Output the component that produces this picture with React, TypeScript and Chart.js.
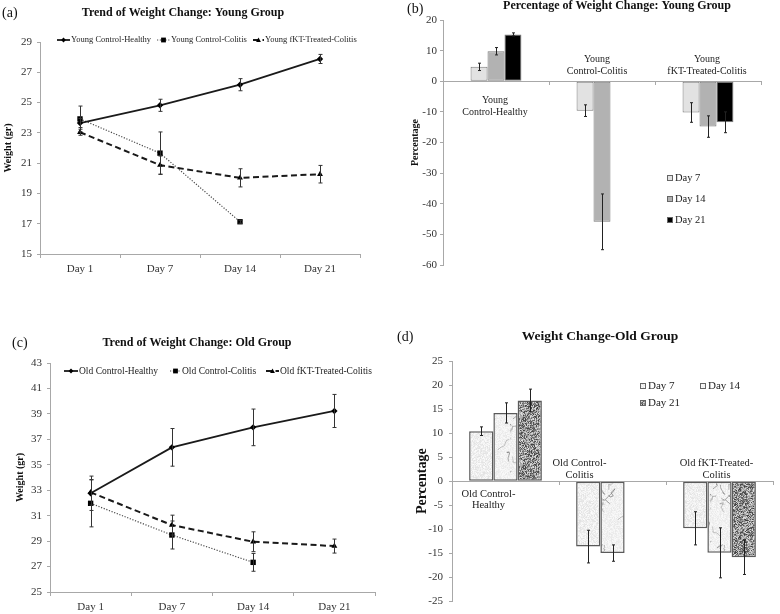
import React, { useEffect, useRef } from "react";
import { Chart, registerables } from "chart.js";

Chart.register(...registerables);

const SERIF = "'Liberation Serif', 'Times New Roman', Times, serif";
const AXIS = "#a8a8a8";
const TICK = "#333333";

// ---------------- data ----------------
const dayLabels = ["Day 1", "Day 7", "Day 14", "Day 21"];

const youngHealthy = [23.65, 24.82, 26.18, 27.88];
const youngHealthyErr = [0.3, 0.4, 0.4, 0.3];
const youngColitis = [23.92, 21.66, 17.13, null];
const youngColitisErr = [0.85, 1.4, 0.1, null];
const youngTreated = [23.04, 20.87, 20.03, 20.27];
const youngTreatedErr = [0.2, 0.6, 0.6, 0.58];

const oldHealthy = [32.76, 36.37, 37.94, 39.23];
const oldHealthyErr = [1.35, 1.48, 1.44, 1.3];
const oldColitis = [31.97, 29.48, 27.33, null];
const oldColitisErr = [1.85, 1.1, 0.7, null];
const oldTreated = [32.83, 30.26, 28.95, 28.61];
const oldTreatedErr = [1.0, 0.78, 0.78, 0.55];

const youngGroups = [["Young", "Control-Healthy"], ["Young", "Control-Colitis"], ["Young", "fKT-Treated-Colitis"]];
const youngPctDay7 = [4.7, -9.6, -10.2];
const youngPctDay7Err = [1.2, 1.9, 3.2];
const youngPctDay14 = [9.8, -45.9, -14.8];
const youngPctDay14Err = [1.2, 9.1, 3.5];
const youngPctDay21 = [15.3, null, -13.4];
const youngPctDay21Err = [0.5, null, 3.4];

const oldGroups = [["Old Control-", "Healthy"], ["Old Control-", "Colitis"], ["Old fKT-Treated-", "Colitis"]];
const oldPctDay7 = [10.4, -13.6, -9.8];
const oldPctDay7Err = [0.9, 3.4, 3.45];
const oldPctDay14 = [14.2, -14.95, -14.9];
const oldPctDay14Err = [2.1, 1.7, 5.2];
const oldPctDay21 = [16.8, null, -15.8];
const oldPctDay21Err = [2.35, null, 3.6];

const youngSeriesNames = ["Young Control-Healthy", "Young Control-Colitis", "Young fKT-Treated-Colitis"];
const oldSeriesNames = ["Old Control-Healthy", "Old Control-Colitis", "Old fKT-Treated-Colitis"];
const barSeriesNames = ["Day 7", "Day 14", "Day 21"];

// ---------------- styles ----------------
const lineStyles = [
  { dash: [] as number[], width: 1.8, color: "#1a1a1a", point: "rectRot", radius: 3.2, marker: "diamond" },
  { dash: [1.2, 1.6], width: 1.2, color: "#4a4a4a", point: "rect", radius: 3.8, marker: "square" },
  { dash: [6, 3.5], width: 2, color: "#1a1a1a", point: "triangle", radius: 3.4, marker: "triangle" },
];

function font(size: number, bold = false) {
  return `${bold ? "bold " : ""}${size}px ${SERIF}`;
}

function drawMarker(ctx: CanvasRenderingContext2D, kind: string, x: number, y: number, r: number) {
  ctx.beginPath();
  if (kind === "diamond") {
    ctx.moveTo(x, y - r); ctx.lineTo(x + r, y); ctx.lineTo(x, y + r); ctx.lineTo(x - r, y); ctx.closePath();
  } else if (kind === "square") {
    ctx.rect(x - r, y - r, 2 * r, 2 * r);
  } else {
    ctx.moveTo(x, y - r); ctx.lineTo(x + r, y + r * 0.8); ctx.lineTo(x - r, y + r * 0.8); ctx.closePath();
  }
  ctx.fill();
}

type TextItem = { text: string; x: number; y: number; size: number; bold?: boolean; align?: CanvasTextAlign };
type LegendItem =
  | { kind: "line"; ds: number; x1: number; x2: number; y: number; size: number }
  | { kind: "box"; ds: number; x: number; y: number; box: number; size: number };

type Decor = {
  texts: TextItem[];
  legend: LegendItem[];
  cap: number;
  errColor: string;
  cat?: { size: number; lh: number; below: number; above: number; offsets: number[] };
};

function makeDecor(d: Decor) {
  return {
    id: "decor",
    afterDatasetsDraw(chart: any) {
      const ctx: CanvasRenderingContext2D = chart.ctx;
      const ys = chart.scales.y;
      chart.data.datasets.forEach((ds: any, i: number) => {
        const errs = ds.errors;
        if (!errs) return;
        const meta = chart.getDatasetMeta(i);
        meta.data.forEach((el: any, j: number) => {
          const v = ds.data[j];
          const e = errs[j];
          if (v == null || e == null) return;
          const x = Math.round(el.x) + 0.5;
          const y1 = ys.getPixelForValue(v + e);
          const y2 = ys.getPixelForValue(v - e);
          ctx.save();
          ctx.strokeStyle = d.errColor;
          ctx.lineWidth = 1;
          ctx.setLineDash([]);
          ctx.beginPath();
          ctx.moveTo(x, y1); ctx.lineTo(x, y2);
          ctx.moveTo(x - d.cap, y1); ctx.lineTo(x + d.cap, y1);
          ctx.moveTo(x - d.cap, y2); ctx.lineTo(x + d.cap, y2);
          ctx.stroke();
          ctx.restore();
        });
      });
    },
    afterDraw(chart: any) {
      const ctx: CanvasRenderingContext2D = chart.ctx;
      ctx.save();
      ctx.textBaseline = "middle";
      ctx.fillStyle = "#111";
      for (const t of d.texts) {
        ctx.font = font(t.size, t.bold);
        ctx.textAlign = t.align || "left";
        ctx.fillText(t.text, t.x, t.y);
      }
      // legend
      for (const it of d.legend) {
        const ds = chart.data.datasets[it.ds];
        if (it.kind === "line") {
          const st = lineStyles[it.ds];
          ctx.strokeStyle = st.color;
          ctx.lineWidth = st.width;
          ctx.setLineDash(st.dash);
          ctx.beginPath();
          ctx.moveTo(it.x1, it.y); ctx.lineTo(it.x2, it.y);
          ctx.stroke();
          ctx.setLineDash([]);
          ctx.fillStyle = "#000";
          drawMarker(ctx, st.marker, (it.x1 + it.x2) / 2, it.y, 2.4);
          ctx.fillStyle = "#222";
          ctx.font = font(it.size);
          ctx.textAlign = "left";
          ctx.fillText(ds.label, it.x2 + 1, it.y);
        } else {
          ctx.fillStyle = ds.backgroundColor;
          ctx.fillRect(it.x, it.y - it.box / 2, it.box, it.box);
          ctx.strokeStyle = "#666";
          ctx.lineWidth = 1;
          ctx.strokeRect(it.x + 0.5, it.y - it.box / 2 + 0.5, it.box - 1, it.box - 1);
          ctx.fillStyle = "#222";
          ctx.font = font(it.size);
          ctx.textAlign = "left";
          ctx.fillText(ds.label, it.x + it.box + 2, it.y);
        }
      }
      // category labels
      if (d.cat) {
        const c = d.cat;
        const xs = chart.scales.x;
        const ys = chart.scales.y;
        const zero = ys.getPixelForValue(0);
        ctx.font = font(c.size);
        ctx.textAlign = "center";
        ctx.fillStyle = "#222";
        chart.data.labels.forEach((lab: string[], i: number) => {
          const x = xs.getPixelForValue(i) + c.offsets[i];
          const first = chart.data.datasets[0].data[i];
          const n = lab.length;
          lab.forEach((line, k) => {
            const y = first >= 0 ? zero + c.below + k * c.lh : zero - c.above - (n - 1 - k) * c.lh;
            ctx.fillText(line, x, y);
          });
        });
      }
      ctx.restore();
    },
  };
}

// ---------------- patterns ----------------
function rng(seed: number) {
  let s = seed >>> 0;
  return () => {
    s = (Math.imul(s, 1664525) + 1013904223) >>> 0;
    return s / 4294967296;
  };
}

function speckle(ctx: CanvasRenderingContext2D, size: number, seed: number, pick: (r: () => number) => number) {
  const c = document.createElement("canvas");
  c.width = size; c.height = size;
  const g = c.getContext("2d")!;
  const img = g.createImageData(size, size);
  const r = rng(seed);
  for (let i = 0; i < size * size; i++) {
    const v = pick(r);
    img.data[i * 4] = v; img.data[i * 4 + 1] = v; img.data[i * 4 + 2] = v; img.data[i * 4 + 3] = 255;
  }
  g.putImageData(img, 0, 0);
  return ctx.createPattern(c, "repeat")!;
}

function marble(ctx: CanvasRenderingContext2D, seed: number) {
  const w = 40, h = 70;
  const c = document.createElement("canvas");
  c.width = w; c.height = h;
  const g = c.getContext("2d")!;
  const img = g.createImageData(w, h);
  const r = rng(seed + 3);
  for (let i = 0; i < w * h; i++) {
    const v = 232 + 18 * r();
    img.data[i * 4] = v; img.data[i * 4 + 1] = v; img.data[i * 4 + 2] = v; img.data[i * 4 + 3] = 255;
  }
  g.putImageData(img, 0, 0);
  const q = rng(seed);
  g.lineWidth = 0.9;
  for (let k = 0; k < 16; k++) {
    g.strokeStyle = `rgba(110,110,110,${0.4 + 0.35 * q()})`;
    g.beginPath();
    let x = q() * w, y = q() * h;
    g.moveTo(x, y);
    for (let s = 0; s < 4; s++) {
      x += (q() - 0.5) * 10;
      y += (q() - 0.3) * 8;
      g.lineTo(x, y);
    }
    g.stroke();
  }
  return ctx.createPattern(c, "repeat")!;
}

// ---------------- configs ----------------
type LineSpec = {
  names: string[];
  data: (number | null)[][];
  err: (number | null)[][];
  min: number; max: number; step: number;
  padding: { left: number; right: number; top: number; bottom: number };
  yWidth: number; xHeight: number;
  yTitlePad: number;
  tickSize: number;
  decor: Decor;
};

function lineConfig(s: LineSpec): any {
  return {
    type: "line",
    data: {
      labels: dayLabels,
      datasets: s.data.map((d, i) => ({
        label: s.names[i],
        data: d,
        errors: s.err[i],
        borderColor: lineStyles[i].color,
        borderWidth: lineStyles[i].width,
        borderDash: lineStyles[i].dash,
        pointStyle: lineStyles[i].point,
        pointRadius: lineStyles[i].radius,
        pointBackgroundColor: "#000",
        pointBorderColor: "#000",
        pointBorderWidth: 0,
        tension: 0,
        fill: false,
        spanGaps: false,
      })),
    },
    options: {
      responsive: false,
      animation: false,
      events: [],
      layout: { padding: s.padding, autoPadding: false },
      plugins: { legend: { display: false }, title: { display: false }, tooltip: { enabled: false } },
      scales: {
        x: {
          type: "category",
          offset: true,
          grid: { offset: true, drawOnChartArea: false, drawTicks: true, tickLength: 4, color: AXIS },
          border: { color: AXIS },
          ticks: { font: { family: SERIF, size: 11 }, color: TICK, padding: 5, maxRotation: 0 },
          afterFit: (sc: any) => { sc.height = s.xHeight; },
        },
        y: {
          min: s.min, max: s.max,
          ticks: { stepSize: s.step, font: { family: SERIF, size: s.tickSize }, color: TICK, padding: 5 },
          grid: { drawOnChartArea: false, tickLength: 3, color: AXIS },
          border: { color: AXIS },
          title: { display: true, text: "Weight (gr)", font: { family: SERIF, size: 10, weight: "bold" }, color: "#111", padding: { top: s.yTitlePad, bottom: 0 } },
          afterFit: (sc: any) => { sc.width = s.yWidth; },
        },
      },
    },
    plugins: [makeDecor(s.decor)],
  };
}

type BarSpec = {
  groups: string[][];
  data: (number | null)[][];
  err: (number | null)[][];
  fills: any[];
  stroke: string;
  borderWidth: number;
  catPct: number;
  min: number; max: number; step: number;
  padding: { left: number; right: number; top: number; bottom: number };
  yWidth: number;
  yTitle: { size: number; pad: number };
  tickPad: number;
  tickSize: number;
  decor: Decor;
};

function barConfig(s: BarSpec): any {
  return {
    type: "bar",
    data: {
      labels: s.groups,
      datasets: s.data.map((d, i) => ({
        label: barSeriesNames[i],
        data: d,
        errors: s.err[i],
        backgroundColor: s.fills[i],
        borderColor: s.stroke,
        borderWidth: s.borderWidth,
        borderSkipped: false,
        categoryPercentage: s.catPct,
        barPercentage: 1,
      })),
    },
    options: {
      responsive: false,
      animation: false,
      events: [],
      layout: { padding: s.padding, autoPadding: false },
      plugins: { legend: { display: false }, title: { display: false }, tooltip: { enabled: false } },
      scales: {
        x: {
          position: { y: 0 },
          offset: true,
          grid: { offset: true, drawOnChartArea: false, drawTicks: true, tickLength: 3, color: AXIS },
          border: { color: AXIS },
          ticks: { display: false },
          afterFit: (sc: any) => { sc.height = 0; },
        },
        y: {
          min: s.min, max: s.max,
          ticks: { stepSize: s.step, font: { family: SERIF, size: s.tickSize }, color: TICK, padding: s.tickPad },
          grid: { drawOnChartArea: false, tickLength: 3, color: AXIS },
          border: { color: AXIS },
          title: { display: true, text: "Percentage", font: { family: SERIF, size: s.yTitle.size, weight: "bold" }, color: "#111", padding: { top: s.yTitle.pad, bottom: 0 } },
          afterFit: (sc: any) => { sc.width = s.yWidth; },
        },
      },
    },
    plugins: [makeDecor(s.decor)],
  };
}

// ---------------- components ----------------
function ChartPanel(props: { left: number; top: number; width: number; height: number; make: (ctx: CanvasRenderingContext2D) => any }) {
  const ref = useRef<HTMLCanvasElement>(null);
  useEffect(() => {
    const c = ref.current!;
    const chart = new Chart(c, props.make(c.getContext("2d")!));
    return () => chart.destroy();
  }, []);
  return (
    <div style={{ position: "absolute", left: props.left, top: props.top, width: props.width, height: props.height }}>
      <canvas ref={ref} width={props.width} height={props.height} style={{ display: "block", width: props.width, height: props.height }} />
    </div>
  );
}

const makeA = () =>
  lineConfig({
    names: youngSeriesNames,
    data: [youngHealthy, youngColitis, youngTreated],
    err: [youngHealthyErr, youngColitisErr, youngTreatedErr],
    min: 15, max: 29, step: 2,
    padding: { left: 0, right: 30, top: 42, bottom: 0 },
    yWidth: 40, xHeight: 46, yTitlePad: 2, tickSize: 11,
    decor: {
      cap: 2, errColor: "#333",
      texts: [
        { text: "(a)", x: 2, y: 13, size: 14 },
        { text: "Trend of Weight Change: Young Group", x: 183, y: 13, size: 12, bold: true, align: "center" },
      ],
      legend: [
        { kind: "line", ds: 0, x1: 57, x2: 70, y: 40, size: 8.5 },
        { kind: "line", ds: 1, x1: 157, x2: 170, y: 40, size: 8.5 },
        { kind: "line", ds: 2, x1: 253, x2: 264, y: 40, size: 8.5 },
      ],
    },
  });

const makeC = () =>
  lineConfig({
    names: oldSeriesNames,
    data: [oldHealthy, oldColitis, oldTreated],
    err: [oldHealthyErr, oldColitisErr, oldTreatedErr],
    min: 25, max: 43, step: 2,
    padding: { left: 0, right: 15, top: 53, bottom: 0 },
    yWidth: 50, xHeight: 22, yTitlePad: 14, tickSize: 11,
    decor: {
      cap: 2, errColor: "#333",
      texts: [
        { text: "(c)", x: 12, y: 33, size: 14 },
        { text: "Trend of Weight Change: Old Group", x: 197, y: 33, size: 12, bold: true, align: "center" },
      ],
      legend: [
        { kind: "line", ds: 0, x1: 64, x2: 78, y: 61, size: 9.5 },
        { kind: "line", ds: 1, x1: 170, x2: 181, y: 61, size: 9.5 },
        { kind: "line", ds: 2, x1: 266, x2: 279, y: 61, size: 9.5 },
      ],
    },
  });

const makeB = () =>
  barConfig({
    groups: youngGroups,
    data: [youngPctDay7, youngPctDay14, youngPctDay21],
    err: [youngPctDay7Err, youngPctDay14Err, youngPctDay21Err],
    fills: ["#e2e2e2", "#b2b2b2", "#000000"],
    stroke: "#7a7a7a", borderWidth: 1, catPct: 0.48,
    min: -60, max: 20, step: 10,
    padding: { left: 0, right: 19, top: 20, bottom: 35 },
    yWidth: 53, yTitle: { size: 10, pad: 19 }, tickPad: 3, tickSize: 11,
    decor: {
      cap: 1.5, errColor: "#222",
      texts: [
        { text: "(b)", x: 17, y: 9, size: 14 },
        { text: "Percentage of Weight Change: Young Group", x: 227, y: 6, size: 12, bold: true, align: "center" },
      ],
      legend: [
        { kind: "box", ds: 0, x: 277, y: 178, box: 6, size: 10.5 },
        { kind: "box", ds: 1, x: 277, y: 199, box: 6, size: 10.5 },
        { kind: "box", ds: 2, x: 277, y: 220, box: 6, size: 10.5 },
      ],
      cat: { size: 10, lh: 12, below: 19, above: 10, offsets: [-1, -5, -1] },
    },
  });

const makeD = (ctx: CanvasRenderingContext2D) =>
  barConfig({
    groups: oldGroups,
    data: [oldPctDay7, oldPctDay14, oldPctDay21],
    err: [oldPctDay7Err, oldPctDay14Err, oldPctDay21Err],
    fills: [
      speckle(ctx, 48, 7, (r) => 226 + 26 * r()),
      marble(ctx, 11),
      speckle(ctx, 48, 21, (r) => (r() < 0.35 ? 60 + 60 * r() : 125 + 100 * r())),
    ],
    stroke: "#5a5a5a", borderWidth: 1.5, catPct: 0.68,
    min: -25, max: 25, step: 5,
    padding: { left: 0, right: 7, top: 51, bottom: 10 },
    yWidth: 62, yTitle: { size: 14, pad: 24 }, tickPad: 6, tickSize: 11,
    decor: {
      cap: 1.5, errColor: "#222",
      texts: [
        { text: "(d)", x: 7, y: 27, size: 14 },
        { text: "Weight Change-Old Group", x: 210, y: 27, size: 13.5, bold: true, align: "center" },
      ],
      legend: [
        { kind: "box", ds: 0, x: 250, y: 76, box: 6, size: 11 },
        { kind: "box", ds: 1, x: 310, y: 76, box: 6, size: 11 },
        { kind: "box", ds: 2, x: 250, y: 93, box: 6, size: 11 },
      ],
      cat: { size: 10.5, lh: 11.5, below: 13, above: 6, offsets: [-17, -33, -3] },
    },
  });

export default function App() {
  return (
    <div style={{ position: "absolute", left: 0, top: 0, width: 780, height: 614, background: "#fff", overflow: "hidden" }}>
      <ChartPanel left={0} top={0} width={390} height={300} make={makeA} />
      <ChartPanel left={390} top={0} width={390} height={300} make={makeB} />
      <ChartPanel left={0} top={310} width={390} height={304} make={makeC} />
      <ChartPanel left={390} top={310} width={390} height={304} make={makeD} />
    </div>
  );
}
